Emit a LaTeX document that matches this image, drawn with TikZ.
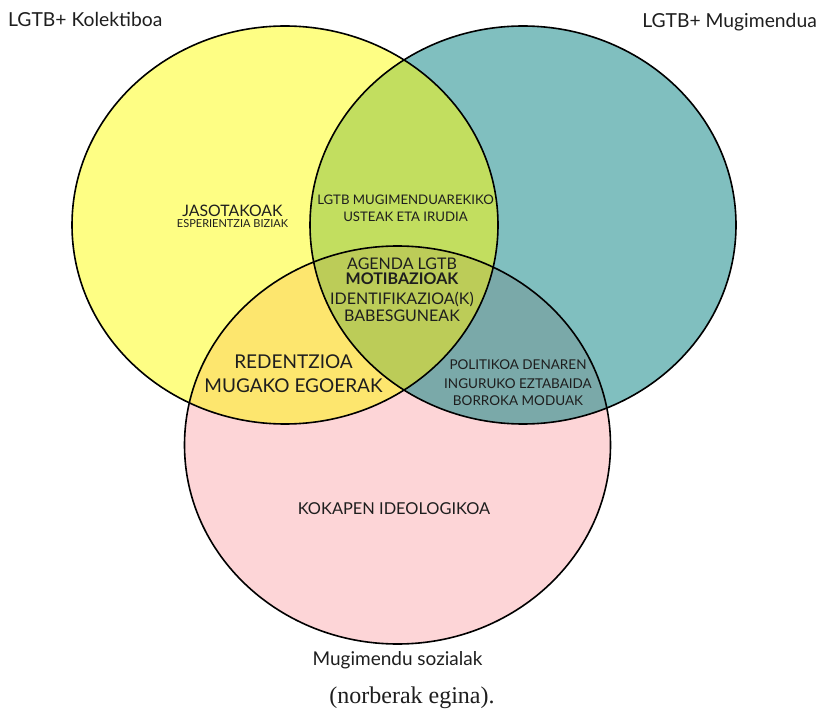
\documentclass[tikz,border=0pt]{standalone}
\usepackage{fontspec}
\setmainfont{Lato}
\newfontfamily\notefont{Liberation Serif}
\usetikzlibrary{positioning}
\definecolor{kolyellow}{RGB}{254,254,132}
\definecolor{mugteal}{RGB}{128,191,191}
\definecolor{sozpink}{RGB}{253,213,215}
\definecolor{kolmug}{RGB}{194,222,95}
\definecolor{kolsoz}{RGB}{253,230,110}
\definecolor{mugsoz}{RGB}{122,169,169}
\definecolor{denak}{RGB}{188,204,88}
\definecolor{txt}{RGB}{30,30,30}

\begin{document}
\begin{tikzpicture}[x=1pt, y=-1pt,
  oval/.style={x radius=213, y radius=199},
  venn/.style={draw=black, line width=1.6pt},
  lbl/.style={text=txt, inner sep=0pt, anchor=base},
  fs/.style={font=\fontsize{#1}{#1}\selectfont}]

\useasboundingbox (0,0) rectangle (822,711);

\coordinate (KOL) at (285,225);
\coordinate (MUG) at (523,225);
\coordinate (SOZ) at (397.5,445);

% base fills
\fill[kolyellow] (KOL) ellipse [oval];
\fill[mugteal] (MUG) ellipse [oval];
\fill[sozpink] (SOZ) ellipse [oval];

% overlaps
\begin{scope}
  \clip (KOL) ellipse [oval];
  \fill[kolmug] (MUG) ellipse [oval];
  \fill[kolsoz] (SOZ) ellipse [oval];
\end{scope}
\begin{scope}
  \clip (MUG) ellipse [oval];
  \fill[mugsoz] (SOZ) ellipse [oval];
\end{scope}
\begin{scope}
  \clip (KOL) ellipse [oval];
  \clip (MUG) ellipse [oval];
  \fill[denak] (SOZ) ellipse [oval];
\end{scope}

\draw[venn] (KOL) ellipse [oval];
\draw[venn] (MUG) ellipse [oval];
\draw[venn] (SOZ) ellipse [oval];

% titles
\node[lbl, fs=19.3, anchor=base west] (koltitle) at (8,27) {LGTB+ Kolektiboa};
\node[lbl, fs=19.3, anchor=base east] (mugtitle) at (817,28) {LGTB+ Mugimendua};
\node[lbl, fs=19] (soztitle) at (397.5,665) {Mugimendu sozialak};
\node[lbl, font=\notefont\fontsize{24}{24}\selectfont] (oharra) at (412,703) {(norberak egina).};

% yellow only
\node[lbl, fs=15.8] (jaso) at (232.5,217) {JASOTAKOAK};
\node[lbl, fs=11, below=11pt of jaso.base, anchor=base] (espe) {ESPERIENTZIA BIZIAK};

% yellow and teal
\node[lbl, fs=13.2] (ustea) at (405.5,205) {LGTB MUGIMENDUAREKIKO};
\node[lbl, fs=13.2, below=17pt of ustea.base, anchor=base] (irudia) {USTEAK ETA IRUDIA};

% all three
\node[lbl, fs=16] (agenda) at (402,270) {AGENDA LGTB};
\node[lbl, fs=16, below=15pt of agenda.base, anchor=base] (motib) {\bfseries MOTIBAZIOAK};
\node[lbl, fs=16, below=20pt of motib.base, anchor=base] (ident) {IDENTIFIKAZIOA(K)};
\node[lbl, fs=16, below=17pt of ident.base, anchor=base] (babes) {BABESGUNEAK};

% yellow and pink
\node[lbl, fs=19] (redentz) at (293.5,368) {REDENTZIOA};
\node[lbl, fs=19, below=24pt of redentz.base, anchor=base] (muga) {MUGAKO EGOERAK};

% teal and pink
\node[lbl, fs=13.5] (polit) at (518,370) {POLITIKOA DENAREN};
\node[lbl, fs=13.5, below=18pt of polit.base, anchor=base] (eztab) {INGURUKO EZTABAIDA};
\node[lbl, fs=13.5, below=17pt of eztab.base, anchor=base] (borroka) {BORROKA MODUAK};

% pink only
\node[lbl, fs=16.4] (kokapen) at (394,514) {KOKAPEN IDEOLOGIKOA};
\end{tikzpicture}
\end{document}
